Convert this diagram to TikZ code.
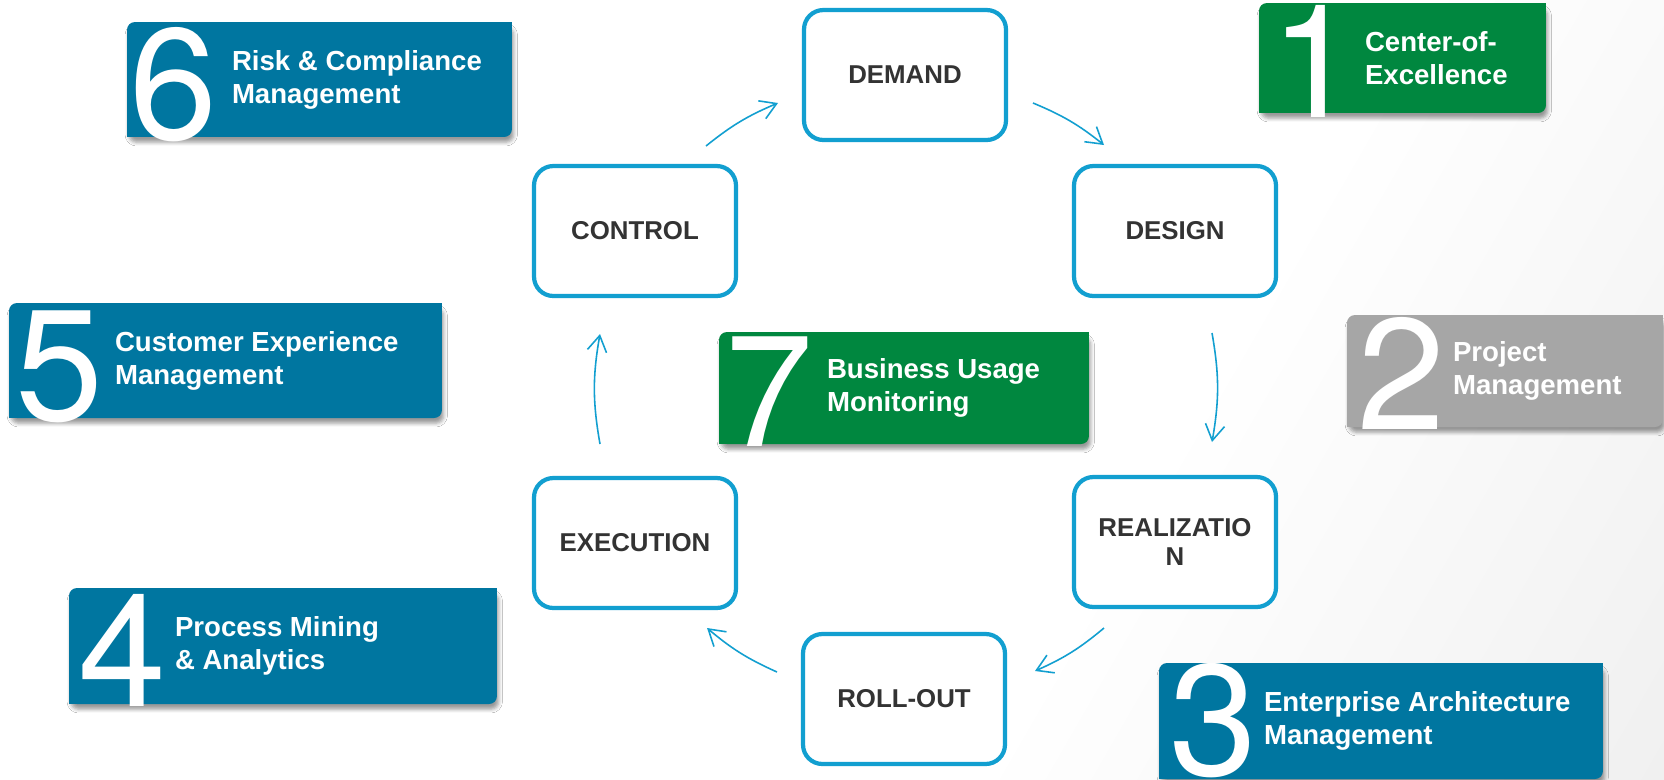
\documentclass[tikz,border=0pt]{standalone}
\usepackage{fontspec}
\setmainfont{Liberation Sans}
\newfontfamily\digitfont{TeX Gyre Heros}
\usetikzlibrary{arrows.meta,shadows.blur}
\definecolor{panelblue}{HTML}{0076A0}
\definecolor{panelgreen}{HTML}{00873F}
\definecolor{panelgray}{HTML}{A6A6A6}
\definecolor{ring}{HTML}{129FD0}
\definecolor{ink}{HTML}{333333}
\pgfdeclarehorizontalshading{sheen}{100bp}{color(0bp)=(white); color(62bp)=(white); color(100bp)=(black!10)}
% square off the top right and bottom left corners of a panel
\newcommand{\squarecorners}[2]{%
  \fill[#2] (#1.north east) rectangle ++(-10,10);
  \fill[#2] (#1.south west) rectangle ++(10,-10);}

\begin{document}
\begin{tikzpicture}[
  x=0.02cm, y=-0.02cm,
  phase/.style={draw=ring, line width=2.4pt, rounded corners=11pt, fill=white, minimum width=4.04cm, minimum height=2.6cm, align=center, text=ink, font=\fontsize{14.7}{16.4}\selectfont\bfseries},
  panel/.style={fill=#1, rounded corners=4.5pt, inner sep=0pt, blur shadow={shadow xshift=1pt, shadow yshift=-3pt}},
  digit/.style={anchor=base west, inner sep=0pt, text=white, font=\fontsize{90}{90}\digitfont},
  blurb/.style={anchor=west, inner sep=0pt, align=left, text=white, font=\fontsize{15.7}{18.7}\selectfont\bfseries},
  flow/.style={-{Straight Barb[length=9pt,width=11pt]}, line width=0.9pt, draw=ring}
]
\useasboundingbox (0,0) rectangle (1664,779);
\shade[shading=sheen, shading angle=-30] (0,0) rectangle (1664,779);

% cycle
\node[phase] (demand) at (905,75) {DEMAND};
\node[phase] (design) at (1175,231) {DESIGN};
\node[phase] (realization) at (1175,542) {REALIZATIO\\N};
\node[phase] (rollout) at (904,699) {ROLL-OUT};
\node[phase] (execution) at (635,543) {EXECUTION};
\node[phase] (control) at (635,231) {CONTROL};

\coordinate (c2d-a) at (706,146);  \coordinate (c2d-b) at (778,103);
\coordinate (d2d-a) at (1033,103); \coordinate (d2d-b) at (1104,145);
\coordinate (d2r-a) at (1212,333); \coordinate (d2r-b) at (1212,442);
\coordinate (r2r-a) at (1104,628); \coordinate (r2r-b) at (1035,671);
\coordinate (r2e-a) at (777,672);  \coordinate (r2e-b) at (707,628);
\coordinate (e2c-a) at (600,444);  \coordinate (e2c-b) at (600,334);

\draw[flow] (c2d-a) to[bend left=8] (c2d-b);
\draw[flow] (d2d-a) to[bend left=8] (d2d-b);
\draw[flow] (d2r-a) to[bend left=10] (d2r-b);
\draw[flow] (r2r-a) to[bend left=8] (r2r-b);
\draw[flow] (r2e-a) to[bend left=8] (r2e-b);
\draw[flow] (e2c-a) to[bend left=10] (e2c-b);

% numbered panels
\node[panel=panelgreen, minimum width=5.74cm, minimum height=2.2cm] (coe) at (1402.5,58) {};
\squarecorners{coe}{panelgreen}
\node[digit] (coe-no) at ([shift={(11,4)}]coe.south west) {1};
\node[blurb] (coe-txt) at ([xshift=2.12cm]coe.west) {Center-of-\\Excellence};

\node[panel=panelgray, minimum width=6.32cm, minimum height=2.24cm] (pm) at (1505,371) {};
\squarecorners{pm}{panelgray}
\node[digit] (pm-no) at ([shift={(10,2)}]pm.south west) {2};
\node[blurb] (pm-txt) at ([xshift=2.12cm]pm.west) {Project\\Management};

\node[panel=panelblue, minimum width=8.88cm, minimum height=2.32cm] (eam) at (1381,721) {};
\squarecorners{eam}{panelblue}
\node[digit] (eam-no) at ([shift={(10,-4)}]eam.south west) {3};
\node[blurb] (eam-txt) at ([xshift=2.1cm]eam.west) {Enterprise Architecture\\Management};

\node[panel=panelblue, minimum width=8.56cm, minimum height=2.32cm] (pma) at (283,646) {};
\squarecorners{pma}{panelblue}
\node[digit] (pma-no) at ([shift={(9,2)}]pma.south west) {4};
\node[blurb] (pma-txt) at ([xshift=2.12cm]pma.west) {Process Mining\\\& Analytics};

\node[panel=panelblue, minimum width=8.66cm, minimum height=2.3cm] (cem) at (225.5,360.5) {};
\squarecorners{cem}{panelblue}
\node[digit] (cem-no) at ([shift={(6,2)}]cem.south west) {5};
\node[blurb] (cem-txt) at ([xshift=2.12cm]cem.west) {Customer Experience\\Management};

\node[panel=panelblue, minimum width=7.7cm, minimum height=2.3cm] (risk) at (319.5,79.5) {};
\squarecorners{risk}{panelblue}
\node[digit] (risk-no) at ([shift={(2,2)}]risk.south west) {6};
\node[blurb] (risk-txt) at ([xshift=2.1cm]risk.west) {Risk \& Compliance\\Management};

\node[panel=panelgreen, minimum width=7.4cm, minimum height=2.24cm] (bum) at (904,388) {};
\squarecorners{bum}{panelgreen}
\node[digit] (bum-no) at ([shift={(6,2)}]bum.south west) {7};
\node[blurb] (bum-txt) at ([xshift=2.16cm]bum.west) {Business Usage\\Monitoring};
\end{tikzpicture}
\end{document}
